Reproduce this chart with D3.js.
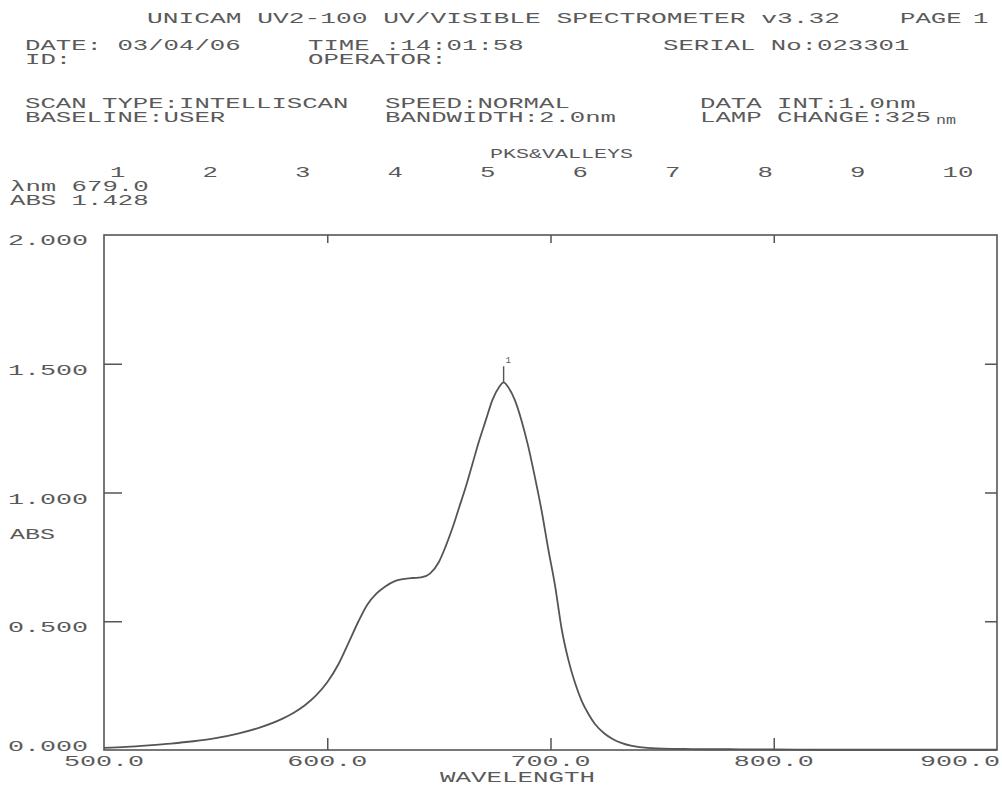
<!DOCTYPE html>
<html>
<head>
<meta charset="utf-8">
<script src="https://cdn.jsdelivr.net/npm/d3@7"></script>
<style>
  html, body { margin: 0; padding: 0; background: #fff; }
  svg { display: block; }
  text { font-family: "Liberation Mono", "DejaVu Sans Mono", monospace; fill: #5a5a5a; }
</style>
</head>
<body>
<svg id="chart" width="1002" height="788"></svg>
<script>
// Absorbance spectrum, wavelength in nm
const wavelengths = [500,510,520,530,540,550,560,570,580,585,590,595,600,605,610,614,618,622,626,630,634,638,642,646,650,653,656,659,662,665,668,671,674,677,679,681,684,687,690,693,696,699,702,705,708,711,714,717,720,724,728,732,736,740,745,750,760,770,780,790,800,820,850,900];
const absorbance = [0.008,0.012,0.018,0.025,0.034,0.046,0.064,0.088,0.122,0.145,0.174,0.212,0.263,0.333,0.425,0.5,0.565,0.607,0.635,0.655,0.664,0.668,0.67,0.685,0.73,0.79,0.86,0.94,1.02,1.11,1.2,1.28,1.36,1.41,1.428,1.41,1.36,1.28,1.18,1.06,0.93,0.78,0.64,0.47,0.35,0.26,0.19,0.14,0.10,0.065,0.042,0.027,0.017,0.011,0.007,0.005,0.004,0.003,0.003,0.002,0.002,0.001,0.001,0.001];

// Axis ticks
const xTicks = [500, 600, 700, 800, 900];
const xTickLabels = ["500.0", "600.0", "700.0", "800.0", "900.0"];
const yTicks = [0, 0.5, 1.0, 1.5, 2.0];
const yTickLabels = ["0.000", "0.500", "1.000", "1.500", "2.000"];

// Peak table
const peakNumbers = ["1","2","3","4","5","6","7","8","9","10"];
const peakWavelength = 679.0;
const peakAbs = 1.428;

// Printout header
const headerRows = [
  ["UNICAM UV2-100 UV/VISIBLE SPECTROMETER v3.32", "PAGE", "1"],
  ["DATE: 03/04/06", "TIME :14:01:58", "SERIAL No:023301"],
  ["ID:", "OPERATOR:"],
  ["SCAN TYPE:INTELLISCAN", "SPEED:NORMAL", "DATA INT:1.0nm"],
  ["BASELINE:USER", "BANDWIDTH:2.0nm", "LAMP CHANGE:325", "nm"]
];

const svg = d3.select("#chart");
const ADV = 15.4;      // printer character pitch
const FS = 14;

function label(x, y, str, adv = ADV, fs = FS) {
  return svg.append("text")
    .attr("x", x).attr("y", y)
    .attr("font-size", fs)
    .attr("textLength", str.length * adv)
    .attr("lengthAdjust", "spacingAndGlyphs")
    .text(str);
}

// Header text
label(147, 23, headerRows[0][0], 15.75);
label(900, 23, headerRows[0][1]);
label(973, 23, headerRows[0][2]);
label(25, 50, headerRows[1][0]);
label(308, 50, headerRows[1][1]);
label(663, 50, headerRows[1][2]);
label(25, 64, headerRows[2][0]);
label(308, 64, headerRows[2][1]);
label(25, 108, headerRows[3][0]);
label(385, 108, headerRows[3][1]);
label(700, 108, headerRows[3][2]);
label(25, 122, headerRows[4][0]);
label(385, 122, headerRows[4][1]);
label(700, 122, headerRows[4][2]);
label(936, 124, headerRows[4][3], 10, 12);

label(490, 158, "PKS&VALLEYS", 13, 13);
peakNumbers.forEach((n, i) => label(110 + i * 92.5, 177, n));
label(10, 191, "\u03bbnm " + peakWavelength.toFixed(1));
label(10, 205, "ABS " + peakAbs.toFixed(3));

// Plot area
const plotL = 104, plotR = 997, plotT = 235, plotB = 750;
const x = d3.scaleLinear().domain([500, 900]).range([plotL, plotR]);
const y = d3.scaleLinear().domain([0, 2]).range([plotB, plotT]);

const ink = "#555";

svg.append("rect")
  .attr("x", plotL).attr("y", plotT)
  .attr("width", plotR - plotL).attr("height", plotB - plotT)
  .attr("fill", "none").attr("stroke", ink).attr("stroke-width", 1.6);

// Inner tick marks on all four sides
const inner = [600, 700, 800];
const innerY = [0.5, 1.0, 1.5];
const gB = svg.append("g").attr("transform", `translate(0,${plotB})`)
  .call(d3.axisTop(x).tickValues(inner).tickSize(12).tickFormat(""));
const gT = svg.append("g").attr("transform", `translate(0,${plotT})`)
  .call(d3.axisBottom(x).tickValues(inner).tickSize(8).tickFormat(""));
const gL = svg.append("g").attr("transform", `translate(${plotL},0)`)
  .call(d3.axisRight(y).tickValues(innerY).tickSize(18).tickFormat(""));
const gR = svg.append("g").attr("transform", `translate(${plotR},0)`)
  .call(d3.axisLeft(y).tickValues(innerY).tickSize(12).tickFormat(""));
[gB, gT, gL, gR].forEach(g => {
  g.select(".domain").remove();
  g.selectAll("line").attr("stroke", ink).attr("stroke-width", 1.5);
});

// Tick labels
xTicks.forEach((v, i) => {
  const s = xTickLabels[i];
  const w = s.length * 16;
  let cx = x(v);
  if (cx + w / 2 > 1000) cx = 1000 - w / 2;
  label(cx - w / 2, plotB + 16, s, 16);
});
yTicks.forEach((v, i) => {
  const s = yTickLabels[i];
  const w = s.length * 16;
  const dy = v === 0 ? 1 : (v === 2 ? 10 : 11);
  label(88 - w, y(v) + dy, s, 16);
});
label(10, 539, "ABS", 15);
label(440, 782, "WAVELENGTH", 15.5);

// Spectrum
const pts = wavelengths.map((w, i) => [w, absorbance[i]]);
svg.append("path")
  .datum(pts)
  .attr("fill", "none")
  .attr("stroke", ink)
  .attr("stroke-width", 1.8)
  .attr("stroke-linejoin", "round")
  .attr("d", d3.line().x(d => x(d[0])).y(d => y(d[1])).curve(d3.curveMonotoneX));

// Peak marker
svg.append("line")
  .attr("x1", x(peakWavelength)).attr("x2", x(peakWavelength))
  .attr("y1", y(peakAbs)).attr("y2", y(peakAbs) - 16)
  .attr("stroke", ink).attr("stroke-width", 1.4);
svg.append("text")
  .attr("x", x(peakWavelength) + 2).attr("y", y(peakAbs) - 19)
  .attr("font-size", 9)
  .text("1");
</script>
</body>
</html>
